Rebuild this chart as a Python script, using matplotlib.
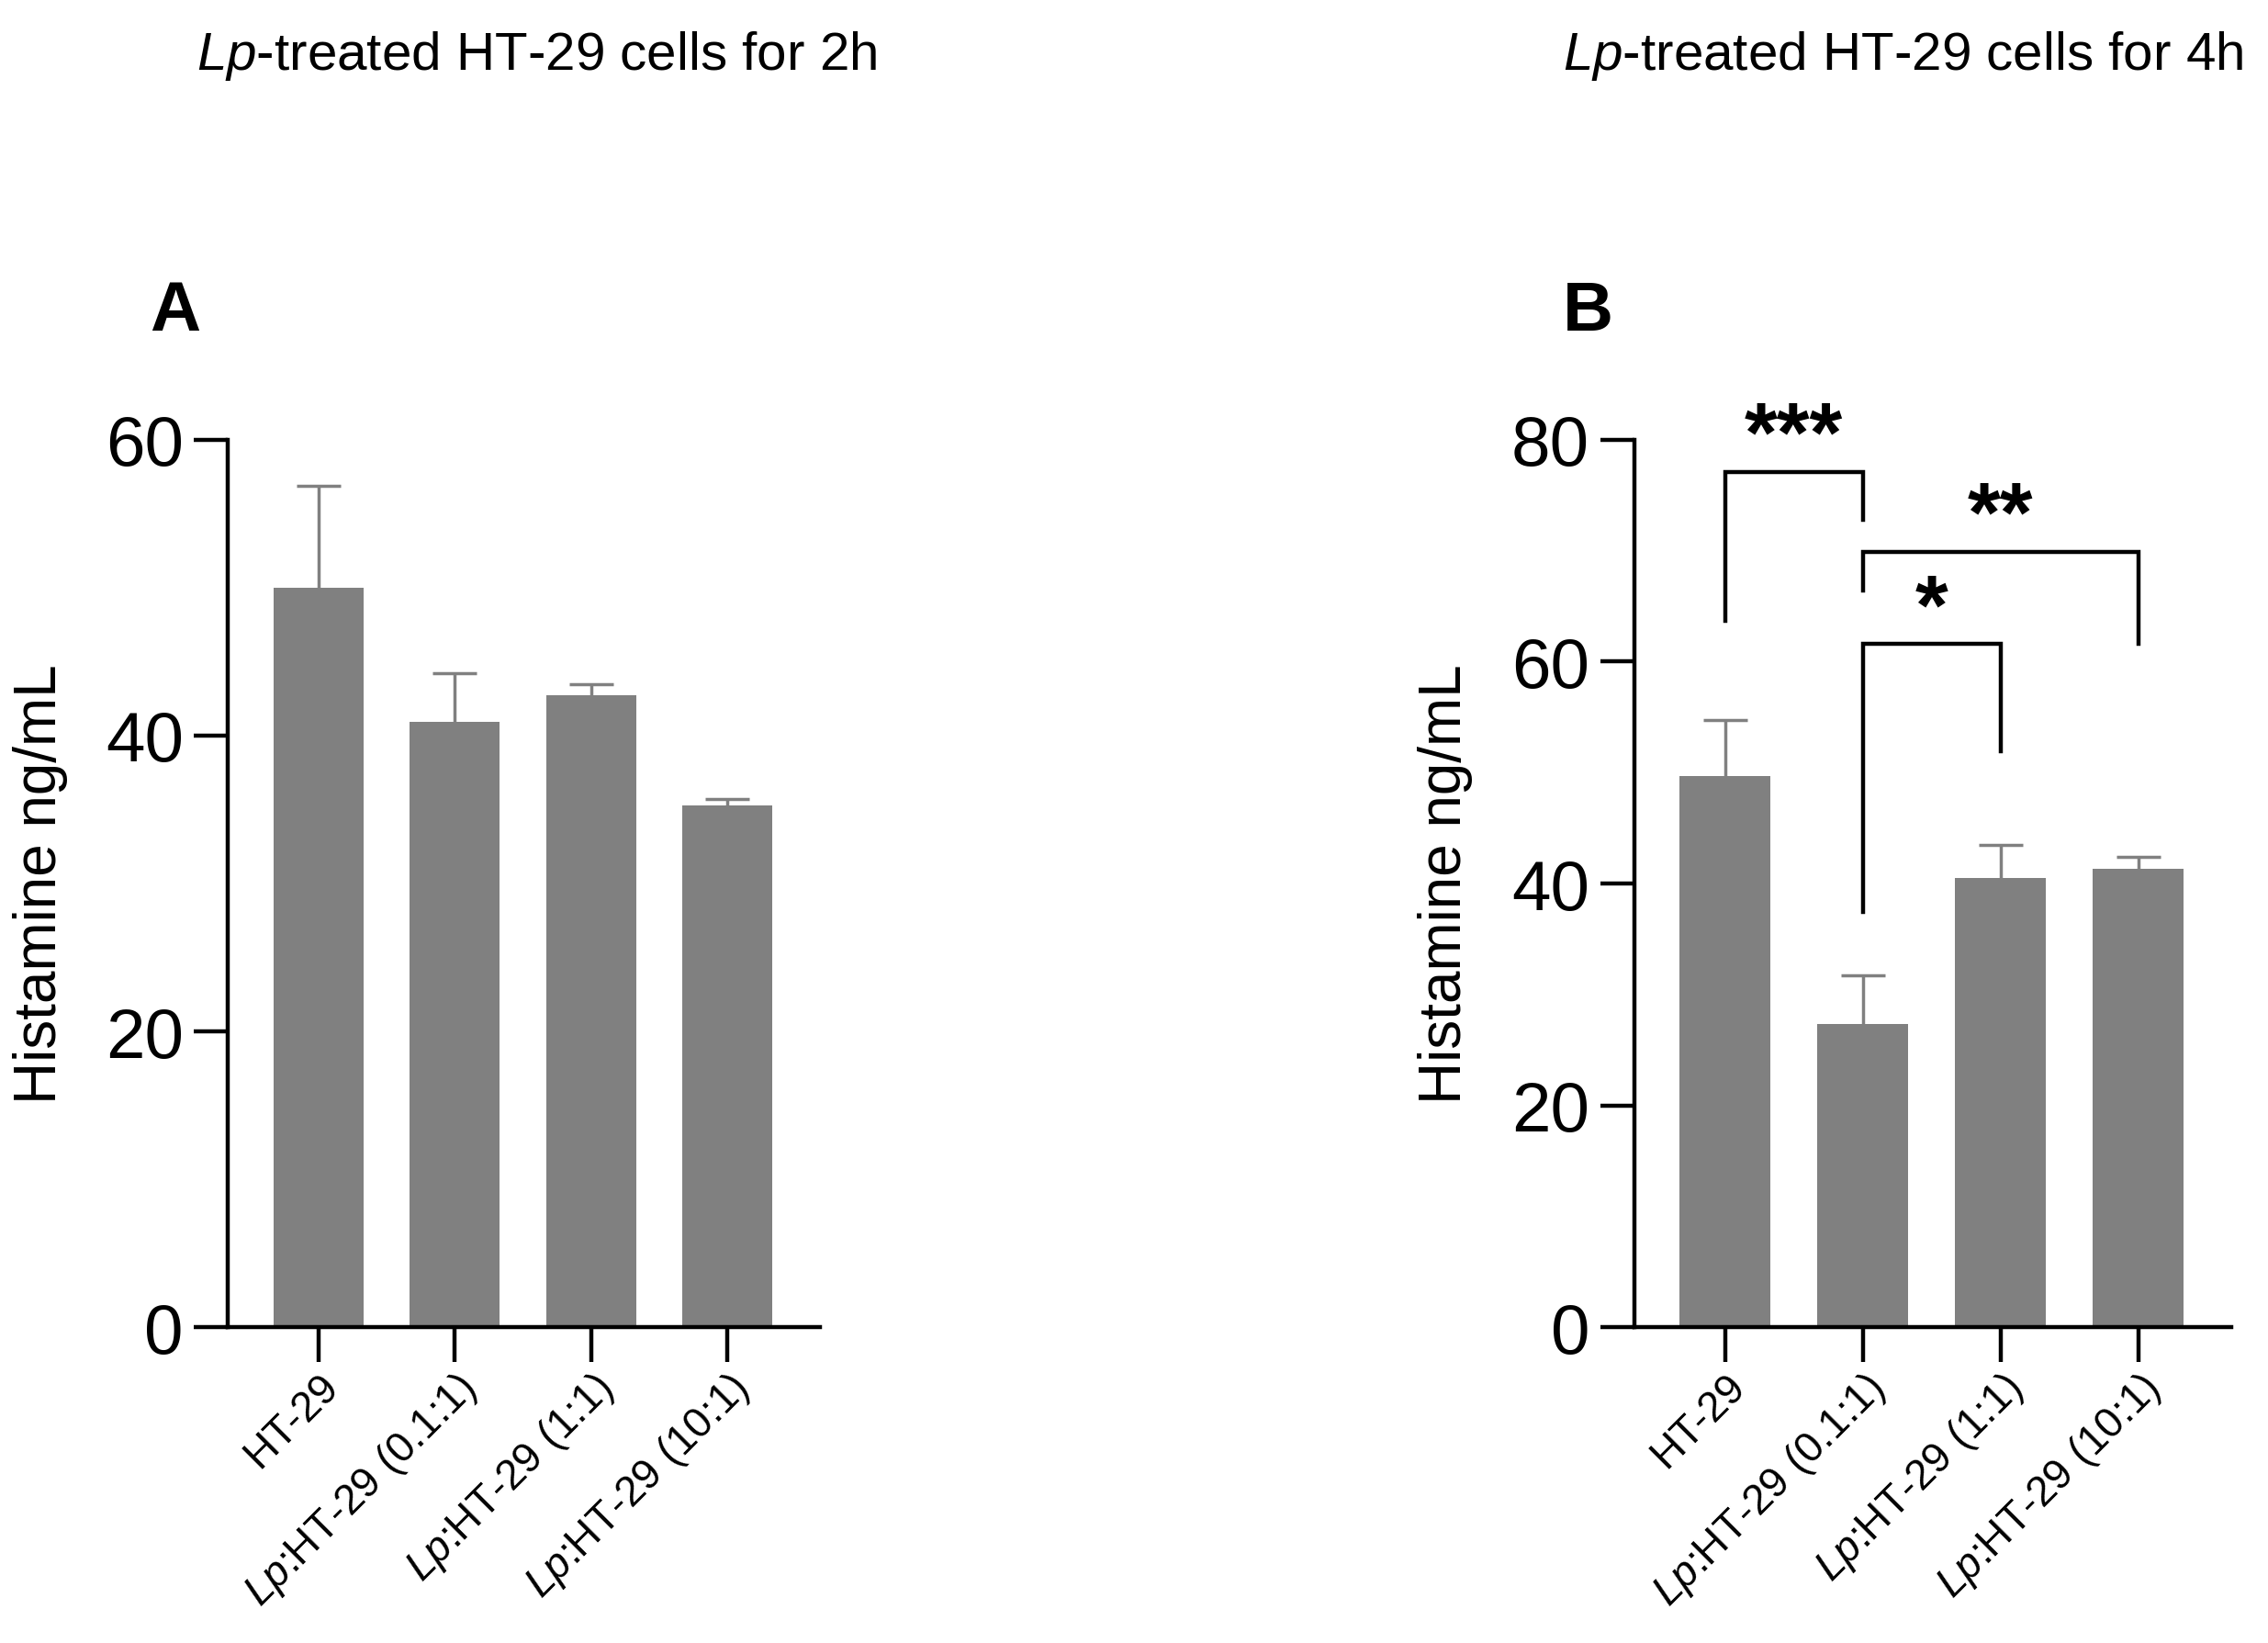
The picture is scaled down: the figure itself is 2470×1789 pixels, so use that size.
import matplotlib
matplotlib.use("Agg")
import matplotlib.pyplot as plt
import matplotlib.transforms as mtransforms
import numpy as np

plt.rcParams['font.family'] = ['Liberation Sans', 'DejaVu Sans']
plt.rcParams['mathtext.fontset'] = 'custom'
plt.rcParams['mathtext.rm'] = 'Liberation Sans'
plt.rcParams['mathtext.it'] = 'Liberation Sans:italic'
plt.rcParams['mathtext.bf'] = 'Liberation Sans:bold'

# data
groups = ["HT-29", r"$\mathit{Lp}$:HT-29 (0.1:1)", r"$\mathit{Lp}$:HT-29 (1:1)", r"$\mathit{Lp}$:HT-29 (10:1)"]
mean_2h = [50.0, 40.9, 42.7, 35.3]
sd_2h = [6.9, 3.3, 0.8, 0.4]
mean_4h = [49.7, 27.3, 40.5, 41.3]
sd_4h = [5.0, 4.4, 3.0, 1.1]

# significance brackets for 4h: (left bar, right bar, bracket top, left leg end, right leg end, stars)
brackets_4h = [
    (0, 1, 77.1, 63.7, 72.8, "***"),
    (1, 3, 69.9, 66.4, 61.6, "**"),
    (1, 2, 61.6, 37.4, 51.9, "*"),
]

bar_color = "#808080"

fig = plt.figure(figsize=(24.7, 17.9), dpi=100)
shift_left = mtransforms.ScaledTranslation(-0.07, 0, fig.dpi_scale_trans)


def panel(rect, means, sds, ymax, letter, title, title_x, letter_x):
    ax = fig.add_axes(rect)
    x = np.arange(len(means))
    ax.bar(x, means, width=0.66, color=bar_color, zorder=2)
    # only the upper half shows, the lower half hides behind the bar
    ax.errorbar(x, means, yerr=sds, fmt="none",
                ecolor=bar_color, elinewidth=2.5, capsize=17, capthick=2.5, zorder=1)
    ax.set_xlim(-0.66, 3.68)
    ax.set_ylim(0, ymax)
    ax.set_yticks(np.arange(0, ymax + 1, 20))
    ax.set_xticks(x)
    ax.set_xticklabels(groups, rotation=45, ha="right", va="top",
                       rotation_mode="anchor", fontsize=33)
    for lab in ax.get_xticklabels():
        lab.set_transform(lab.get_transform() + shift_left)
    for s in ["top", "right"]:
        ax.spines[s].set_visible(False)
    for s in ["left", "bottom"]:
        ax.spines[s].set_linewidth(3.2)
    ax.tick_params(axis="y", width=3.2, length=27, labelsize=55, pad=8)
    ax.tick_params(axis="x", width=3.2, length=27, pad=3)
    ax.set_ylabel("Histamine ng/mL", fontsize=46)
    ax.yaxis.set_label_coords(-0.27, 0.5)
    fig.text(letter_x, 0.81, letter, fontsize=55, fontweight="bold", ha="center", va="center")
    fig.text(title_x, 0.966, title, fontsize=42, ha="center", va="center")
    return ax


axA = panel([0.1006, 0.192, 0.261, 0.54], mean_2h, sd_2h, 60, "A",
            r"$\mathit{Lp}$-treated HT-29 cells for 2h", 0.2365, 0.077)
axB = panel([0.7205, 0.192, 0.2635, 0.54], mean_4h, sd_4h, 80, "B",
            r"$\mathit{Lp}$-treated HT-29 cells for 4h", 0.839, 0.70)

for i, j, top, yl, yr, stars in brackets_4h:
    axB.plot([i, i, j, j], [yl, top, top, yr], color="black", lw=3.2,
             solid_joinstyle="miter", clip_on=False, zorder=3)
    axB.text((i + j) / 2, top + 1.0, stars, fontsize=66, fontweight="bold",
             ha="center", va="baseline")

fig.savefig("out.png", dpi=100)
